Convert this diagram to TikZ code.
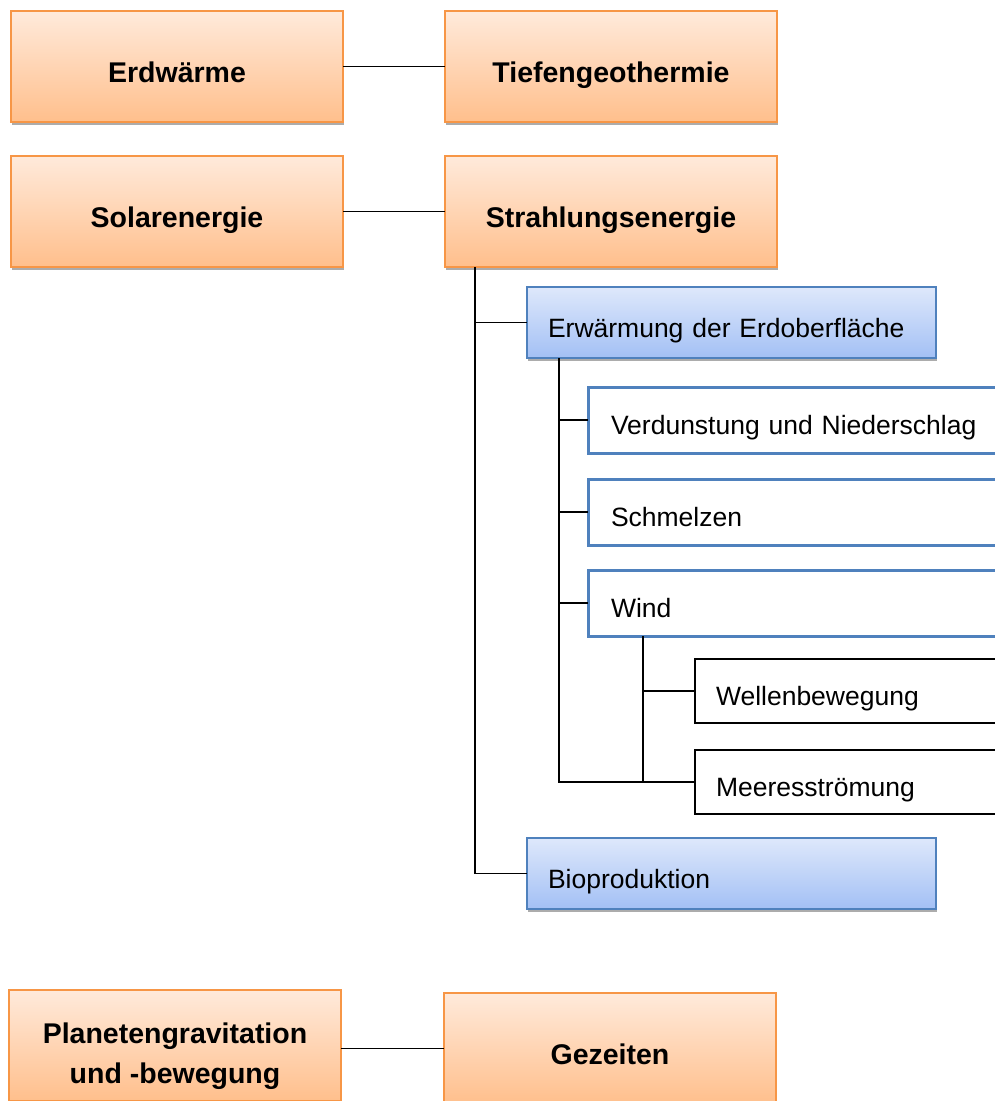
\documentclass[tikz,border=0pt]{standalone}
\usepackage{fontspec}
\setmainfont{Liberation Sans}
\usetikzlibrary{shadows}
\definecolor{oborder}{HTML}{F79646}
\definecolor{otop}{HTML}{FFEADB}
\definecolor{obot}{HTML}{FFBF8C}
\definecolor{bborder}{HTML}{4F81BD}
\definecolor{btop}{HTML}{DEE8FB}
\definecolor{bbot}{HTML}{A3C0F5}
\begin{document}
\begin{tikzpicture}[x=1pt,y=-1pt,
  conn/.style={line width=1.7pt, black},
  base/.style={anchor=north west, inner sep=0pt, outer sep=0pt},
  boxshadow/.style={drop shadow={shadow xshift=0.8pt, shadow yshift=-3pt, fill=gray!65, opacity=1}},
  obox/.style={base, boxshadow, draw=oborder, line width=1.6pt,
    top color=otop, bottom color=obot, align=center,
    font=\fontsize{28.5}{40}\selectfont\bfseries,
    text height=31pt, text depth=0pt,
    minimum width=332pt, minimum height=111pt},
  lefttext/.style={align=left, text height=29pt, text depth=0pt,
    font=\fontsize{26.5}{30}\selectfont},
  bbox/.style={base, boxshadow, lefttext, draw=bborder, line width=1.4pt,
    top color=btop, bottom color=bbot,
    inner xsep=21pt, text width=367pt, minimum height=71pt},
  wbox/.style={base, lefttext, draw=bborder, line width=3pt, fill=white,
    inner xsep=23pt, text width=374pt, minimum height=66pt},
  kbox/.style={base, lefttext, draw=black, line width=1.4pt, fill=white,
    inner xsep=21pt, text width=278pt, minimum height=64pt},
]
\useasboundingbox (0,0) rectangle (995,1101);
\clip (0,0) rectangle (995,1101);

% top-level sources and their forms
\node[obox] (erd)  at (11,11)   {Erdwärme};
\node[obox] (tief) at (445,11)  {Tiefengeothermie};
\node[obox] (sol)  at (11,156)  {Solarenergie};
\node[obox] (str)  at (445,156) {Strahlungsenergie};
\node[obox, text height=75pt, text depth=0pt] (pla) at (9,990)
  {Planetengravitation\\und -bewegung};
\node[obox] (gez)  at (444,993) {Gezeiten};

% branches of the radiation energy
\node[bbox] (erw)  at (527,287) {Erwärmung der Erdoberfläche};
\node[bbox] (bio)  at (527,838) {Bioproduktion};

\node[wbox] (verd) at (588,387) {Verdunstung und Niederschlag};
\node[wbox] (schm) at (588,479) {Schmelzen};
\node[wbox] (wind) at (588,570) {Wind};

\node[kbox] (well) at (695,659) {Wellenbewegung};
\node[kbox] (mee)  at (695,750) {Meeresströmung};

% connectors
\draw[conn] (erd.east) -- (tief.west);
\draw[conn] (sol.east) -- (str.west);
\draw[conn] (gez.west -| pla.east) -- (gez.west);

\coordinate (sv) at ([xshift=30pt]str.south west);
\draw[conn] (sv) |- (bio.west);
\draw[conn] (sv |- erw.west) -- (erw.west);

\coordinate (ev) at ([xshift=32pt]erw.south west);
\draw[conn] (ev) |- (mee.west);
\draw[conn] (ev |- verd.west) -- (verd.west);
\draw[conn] (ev |- schm.west) -- (schm.west);
\draw[conn] (ev |- wind.west) -- (wind.west);

\coordinate (wv) at ([xshift=55pt]wind.south west);
\draw[conn] (wv) -- (wv |- mee.west);
\draw[conn] (wv |- well.west) -- (well.west);
\end{tikzpicture}
\end{document}
